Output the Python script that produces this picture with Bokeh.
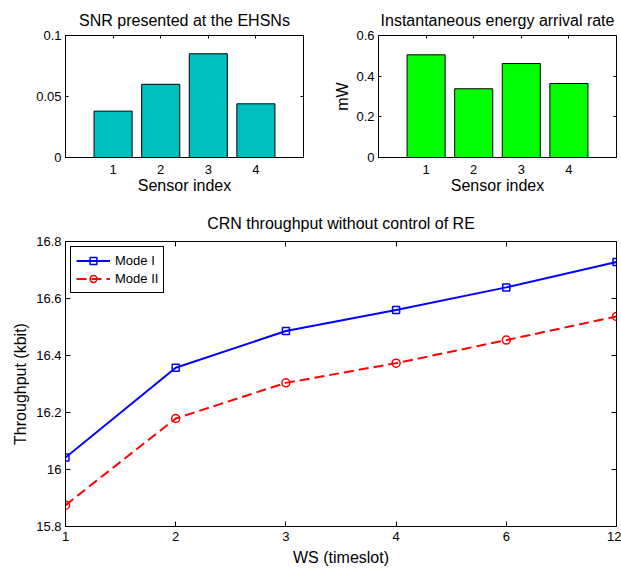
from bokeh.plotting import figure
from bokeh.models import Range1d, FixedTicker, LinearAxis, Legend, LegendItem
from bokeh.layouts import column, row
from bokeh.embed import file_html
from bokeh.resources import INLINE

# ---------------- data ----------------
sensor_index = [1, 2, 3, 4]
snr_values = [0.038, 0.060, 0.085, 0.044]
energy_values = [0.505, 0.338, 0.462, 0.364]

snr_ticks = [0, 0.05, 0.1]
snr_tick_labels = ["0", "0.05", "0.1"]
energy_ticks = [0, 0.2, 0.4, 0.6]
energy_tick_labels = ["0", "0.2", "0.4", "0.6"]

ws_labels = ["1", "2", "3", "4", "6", "12"]
mode1 = [16.042, 16.357, 16.486, 16.560, 16.639, 16.728]
mode2 = [15.875, 16.179, 16.304, 16.373, 16.454, 16.537]
thr_ticks = [15.8, 16.0, 16.2, 16.4, 16.6, 16.8]
thr_tick_labels = ["15.8", "16", "16.2", "16.4", "16.6", "16.8"]

FONT = "Liberation Sans"


def base_style(p, title_standoff):
    p.grid.visible = False
    p.outline_line_color = "black"
    p.outline_line_alpha = 1
    p.outline_line_width = 1
    p.background_fill_color = "white"
    p.border_fill_color = "white"
    p.title.text_font = FONT
    p.title.text_font_size = "16px"
    p.title.text_font_style = "normal"
    p.title.align = "center"
    p.title.text_color = "black"
    p.title.standoff = title_standoff


def style_axis(ax, ticks, labels, tick_in, label_standoff, axis_label_standoff):
    ax.ticker = FixedTicker(ticks=ticks)
    ax.major_label_overrides = dict(zip(ticks, labels))
    ax.major_tick_in = tick_in
    ax.major_tick_out = 0
    ax.minor_tick_in = 0
    ax.minor_tick_out = 0
    ax.major_tick_line_color = "black"
    ax.axis_line_color = "black"
    ax.major_label_text_font = FONT
    ax.major_label_text_font_size = "13px"
    ax.major_label_text_color = "black"
    ax.major_label_standoff = label_standoff
    ax.axis_label_text_font = FONT
    ax.axis_label_text_font_size = "16px"
    ax.axis_label_text_font_style = "normal"
    ax.axis_label_text_color = "black"
    ax.axis_label_standoff = axis_label_standoff


def mirror_axes(p, xticks, yticks, tick_len):
    # ticks on the top and right edges (box on), drawn as label-less minor ticks
    for ticks, side in ((xticks, "above"), (yticks, "right")):
        ax = LinearAxis(ticker=FixedTicker(ticks=[], minor_ticks=ticks),
                        major_tick_in=0, major_tick_out=0,
                        minor_tick_in=tick_len, minor_tick_out=0,
                        minor_tick_line_color="black", axis_line_color=None,
                        major_label_standoff=0)
        p.add_layout(ax, side)


# ---------------- top-left: SNR ----------------
p1 = figure(width=310, height=200, output_backend="svg", toolbar_location=None,
            title="SNR presented at the EHSNs",
            x_range=Range1d(0, 5), y_range=Range1d(0, 0.1),
            min_border_left=65, min_border_right=7, min_border_top=35, min_border_bottom=43)
base_style(p1, 13)
p1.vbar(x=sensor_index, top=snr_values, width=0.8, fill_color="#00bfbf",
        line_color="black", line_width=1)
p1.xaxis.axis_label = "Sensor index"
style_axis(p1.xaxis[0], sensor_index, [str(i) for i in sensor_index], 0, 7, 0)
style_axis(p1.yaxis[0], snr_ticks, snr_tick_labels, 3, 4, 2)
mirror_axes(p1, sensor_index, snr_ticks, 3)

# ---------------- top-right: energy ----------------
p2 = figure(width=311, height=200, output_backend="svg", toolbar_location=None,
            title="Instantaneous energy arrival rate",
            x_range=Range1d(0, 5), y_range=Range1d(0, 0.6),
            min_border_left=68, min_border_right=5, min_border_top=35, min_border_bottom=43)
base_style(p2, 13)
p2.vbar(x=sensor_index, top=energy_values, width=0.8, fill_color="#00ff00",
        line_color="black", line_width=1)
p2.xaxis.axis_label = "Sensor index"
p2.yaxis.axis_label = "mW"
style_axis(p2.xaxis[0], sensor_index, [str(i) for i in sensor_index], 0, 7, 0)
style_axis(p2.yaxis[0], energy_ticks, energy_tick_labels, 3, 4, 2)
mirror_axes(p2, sensor_index, energy_ticks, 3)

# ---------------- bottom: throughput ----------------
ws_pos = list(range(1, len(ws_labels) + 1))
p3 = figure(width=621, height=368, output_backend="svg", toolbar_location=None,
            title="CRN throughput without control of RE",
            x_range=Range1d(1, len(ws_labels)), y_range=Range1d(15.8, 16.8),
            min_border_left=65, min_border_right=5, min_border_top=41, min_border_bottom=42)
base_style(p3, 19)
l1 = p3.line(ws_pos, mode1, line_color="#0000ff", line_width=2)
m1 = p3.scatter(ws_pos, mode1, marker="square", size=7, fill_color=None,
                line_color="#0000ff", line_width=1.5)
l2 = p3.line(ws_pos, mode2, line_color="#ff0000", line_width=2, line_dash="10 5")
m2 = p3.scatter(ws_pos, mode2, marker="circle", size=8, fill_color=None,
                line_color="#ff0000", line_width=1.5)
p3.xaxis.axis_label = "WS (timeslot)"
p3.yaxis.axis_label = "Throughput (kbit)"
style_axis(p3.xaxis[0], ws_pos, ws_labels, 5, 5, 5)
style_axis(p3.yaxis[0], thr_ticks, thr_tick_labels, 5, 4, 4)
mirror_axes(p3, ws_pos, thr_ticks, 5)

legend = Legend(items=[LegendItem(label="Mode I", renderers=[l1, m1]),
                       LegendItem(label="Mode II", renderers=[l2, m2])],
                location="top_left")
legend.margin = 5
legend.padding = 5
legend.spacing = 1
legend.glyph_width = 34
legend.glyph_height = 17
legend.label_height = 17
legend.label_standoff = 5
legend.label_text_font = FONT
legend.label_text_font_size = "13px"
legend.label_text_color = "black"
legend.border_line_color = "black"
legend.border_line_width = 1
legend.border_line_alpha = 1
legend.background_fill_color = "white"
legend.background_fill_alpha = 1
p3.add_layout(legend)

layout = column(row(p1, p2), p3)
open("out.html", "w").write(file_html(layout, INLINE))
